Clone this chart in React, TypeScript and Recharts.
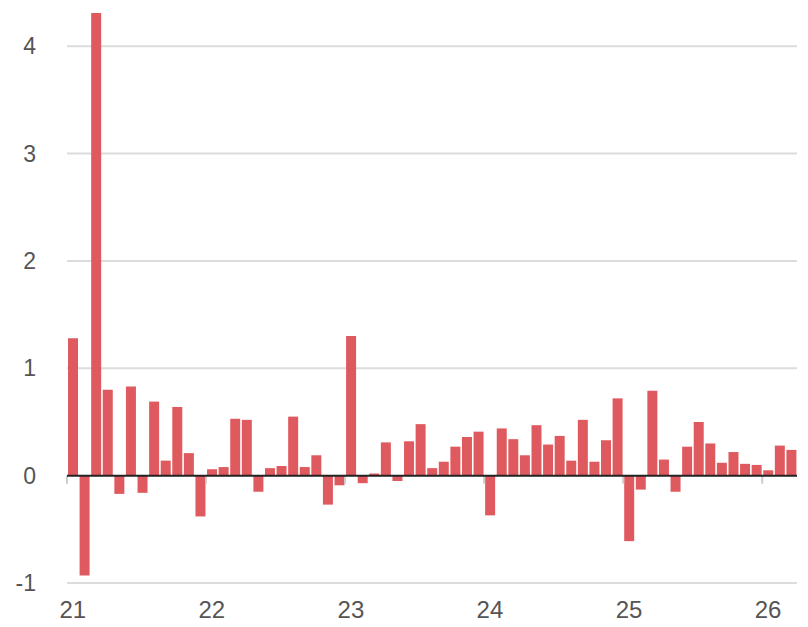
import React from 'react';
import { BarChart, Bar, XAxis, YAxis, CartesianGrid, ReferenceLine } from 'recharts';

const months = [
  '2021-01', '2021-02', '2021-03', '2021-04', '2021-05', '2021-06', '2021-07', '2021-08', '2021-09', '2021-10', '2021-11', '2021-12',
  '2022-01', '2022-02', '2022-03', '2022-04', '2022-05', '2022-06', '2022-07', '2022-08', '2022-09', '2022-10', '2022-11', '2022-12',
  '2023-01', '2023-02', '2023-03', '2023-04', '2023-05', '2023-06', '2023-07', '2023-08', '2023-09', '2023-10', '2023-11', '2023-12',
  '2024-01', '2024-02', '2024-03', '2024-04', '2024-05', '2024-06', '2024-07', '2024-08', '2024-09', '2024-10', '2024-11', '2024-12',
  '2025-01', '2025-02', '2025-03', '2025-04', '2025-05', '2025-06', '2025-07', '2025-08', '2025-09', '2025-10', '2025-11', '2025-12',
  '2026-01', '2026-02', '2026-03',
];

const values = [
  1.28, -0.93, 4.31, 0.80, -0.17, 0.83, -0.16, 0.69, 0.14, 0.64, 0.21, -0.38,
  0.06, 0.08, 0.53, 0.52, -0.15, 0.07, 0.09, 0.55, 0.08, 0.19, -0.27, -0.09,
  1.30, -0.07, 0.02, 0.31, -0.05, 0.32, 0.48, 0.07, 0.13, 0.27, 0.36, 0.41,
  -0.37, 0.44, 0.34, 0.19, 0.47, 0.29, 0.37, 0.14, 0.52, 0.13, 0.33, 0.72,
  -0.61, -0.13, 0.79, 0.15, -0.15, 0.27, 0.50, 0.30, 0.12, 0.22, 0.11, 0.10,
  0.05, 0.28, 0.24,
];

const yearTicks = [0, 12, 24, 36, 48, 60];
const yearLabels = ['21', '22', '23', '24', '25', '26'];
const yTicks = [-1, 0, 1, 2, 3, 4];
const gridValues = [-1, 1, 2, 3, 4];

const data = values.map((v, i) => ({ idx: i, month: months[i], value: v }));

const FONT = '"Liberation Sans", Arial, sans-serif';

export default function App() {
  return (
    <div style={{ position: 'absolute', left: 0, top: 0, width: 808, height: 627, background: '#fff' }}>
      <BarChart
        width={808}
        height={627}
        data={data}
        margin={{ top: 13, right: 11, bottom: 0, left: 0 }}
      >
        <CartesianGrid vertical={false} horizontalValues={gridValues} stroke="#dcdcdc" strokeWidth={2} />
        <XAxis
          dataKey="idx"
          type="number"
          domain={[-0.5, 62.5]}
          ticks={yearTicks}
          tickFormatter={(v: number) => yearLabels[yearTicks.indexOf(v)] ?? ''}
          axisLine={false}
          tickLine={false}
          tickSize={0}
          tickMargin={18}
          height={44}
          interval={0}
          tick={{ fill: '#555', fontSize: 24, fontFamily: FONT }}
        />
        <YAxis
          type="number"
          domain={[-1, 4.31]}
          ticks={yTicks}
          allowDataOverflow
          axisLine={false}
          tickLine={false}
          tickSize={0}
          tickMargin={31}
          width={67}
          interval={0}
          tick={{ fill: '#555', fontSize: 23, fontFamily: FONT }}
        />
        <Bar dataKey="value" fill="#DF5A5E" barSize={10} isAnimationActive={false} />
        {yearTicks.map((t) => (
          <ReferenceLine
            key={t}
            segment={[{ x: t - 0.5, y: 0 }, { x: t - 0.5, y: -0.075 }]}
            stroke="#cccccc"
            strokeWidth={2}
            ifOverflow="visible"
          />
        ))}
        <ReferenceLine y={0} stroke="#222" strokeWidth={2} />
      </BarChart>
    </div>
  );
}
